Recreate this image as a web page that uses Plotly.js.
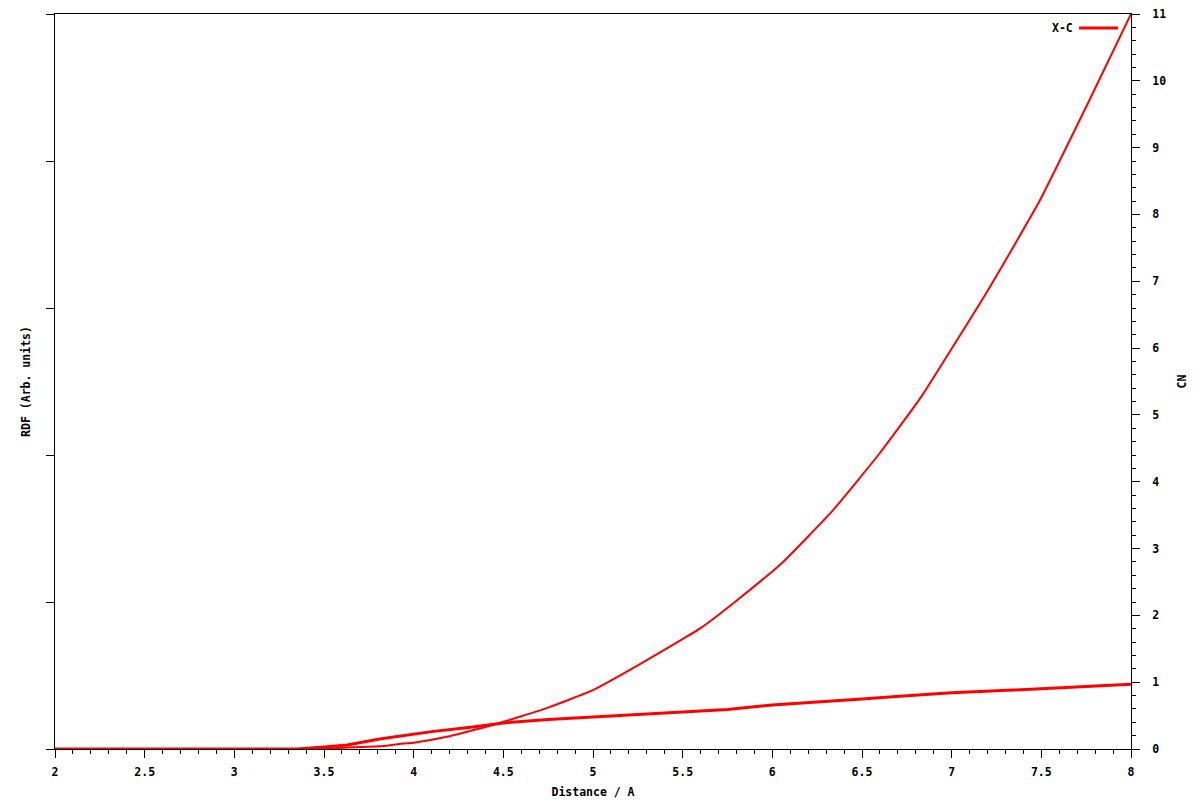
<!DOCTYPE html>
<html>
<head>
<meta charset="utf-8">
<script src="https://cdn.plot.ly/plotly-3.0.1.min.js"></script>
<style>html,body{margin:0;padding:0;background:#fff;}#chart{width:1200px;height:800px;}</style>
</head>
<body>
<div id="chart"></div>
<script>
// RDF (arbitrary units, thick line)
const rdfX = [2.0, 3.3, 3.35, 3.5, 3.63, 3.81, 4.0, 4.1, 4.33, 4.5, 4.75, 5.0, 5.25, 5.5, 5.75, 6.0, 6.25, 6.5, 6.71, 7.0, 7.25, 7.5, 7.75, 8.0];
const rdfY = [0, 0, 0, 0.03, 0.06, 0.15, 0.22, 0.26, 0.33, 0.39, 0.44, 0.48, 0.52, 0.55, 0.59, 0.66, 0.70, 0.75, 0.79, 0.84, 0.87, 0.90, 0.93, 0.97];
// Coordination number (thin line, right axis)
const cnX = [2.0, 3.45, 3.53, 3.81, 3.92, 4.0, 4.2, 4.33, 4.46, 4.6, 4.75, 5.0, 5.25, 5.49, 5.6, 5.8, 6.06, 6.34, 6.6, 6.83, 7.21, 7.49, 7.77, 8.0];
const cnY = [0, 0, 0.01, 0.04, 0.075, 0.095, 0.19, 0.28, 0.374, 0.49, 0.62, 0.88, 1.25, 1.63, 1.81, 2.22, 2.80, 3.58, 4.43, 5.27, 6.9, 8.2, 9.72, 11.0];
const seriesName = "X-C";
const xTitle = "Distance / A";
const yTitle = "RDF (Arb. units)";
const y2Title = "CN";

const font = {family: "DejaVu Sans Mono, monospace", size: 11.5, color: "#000", weight: "bold"};

const traces = [
  {x: rdfX, y: rdfY, type: "scatter", mode: "lines", name: seriesName, yaxis: "y",
   line: {color: "#ff0000", width: 3}, showlegend: false},
  {x: cnX, y: cnY, type: "scatter", mode: "lines", name: "CN", yaxis: "y2",
   line: {color: "#ff0000", width: 2, shape: "spline", smoothing: 0.4}, showlegend: false}
];

const layout = {
  width: 1200, height: 800,
  margin: {l: 55, r: 69, t: 14, b: 51},
  paper_bgcolor: "#fff", plot_bgcolor: "#fff",
  font: font,
  showlegend: false,
  xaxis: {
    range: [2, 8], dtick: 0.5, tick0: 2, showgrid: false, zeroline: false,
    showline: true, linecolor: "#000", linewidth: 1, mirror: true,
    ticks: "outside", ticklen: 8, tickcolor: "#000", tickwidth: 1,
    ticklabelstandoff: 4,
    minor: {dtick: 0.1, ticks: "outside", ticklen: 4, tickcolor: "#000", showgrid: false},
    tickfont: font,
    title: {text: xTitle, font: font, standoff: 10}
  },
  yaxis: {
    range: [0, 11], dtick: 2.2, tick0: 0, showgrid: false, zeroline: false,
    showline: true, linecolor: "#000", linewidth: 1,
    ticks: "outside", ticklen: 8, tickcolor: "#000",
    showticklabels: false,
    title: {text: yTitle, font: font, standoff: 12}
  },
  yaxis2: {
    range: [0, 11], dtick: 1, tick0: 0, overlaying: "y", side: "right",
    showgrid: false, zeroline: false,
    showline: true, linecolor: "#000", linewidth: 1,
    ticks: "outside", ticklen: 8, tickcolor: "#000",
    ticklabelstandoff: 10,
    minor: {dtick: 0.2, ticks: "outside", ticklen: 4, tickcolor: "#000", showgrid: false},
    tickfont: font,
    title: {text: y2Title, font: font, standoff: 12}
  },
  annotations: [{
    xref: "paper", yref: "paper", x: 0.9475, y: 0.981, xanchor: "right", yanchor: "middle",
    text: seriesName, showarrow: false, font: font
  }],
  shapes: [{
    type: "line", xref: "paper", yref: "paper", x0: 0.9517, x1: 0.988, y0: 0.981, y1: 0.981,
    line: {color: "#ff0000", width: 3}
  }]
};

Plotly.newPlot("chart", traces, layout, {displayModeBar: false, staticPlot: true});
</script>
</body>
</html>
